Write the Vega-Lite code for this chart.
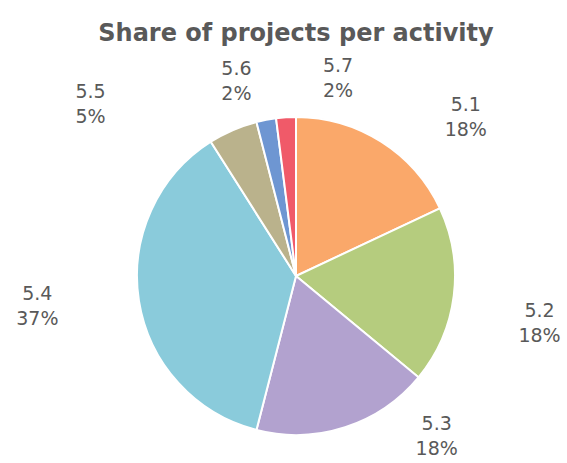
{
  "$schema": "https://vega.github.io/schema/vega-lite/v6.json",
  "autosize": "none",
  "width": 542,
  "height": 374,
  "padding": {"top": 89, "left": 25, "right": 0, "bottom": 0},
  "background": "white",
  "title": {
    "text": "Share of projects per activity",
    "font": "DejaVu Sans",
    "fontSize": 24,
    "fontWeight": "bold",
    "color": "#595959",
    "anchor": "middle",
    "offset": 11
  },
  "data": {
    "values": [
      {"activity": "5.1", "share": 18},
      {"activity": "5.2", "share": 18},
      {"activity": "5.3", "share": 18},
      {"activity": "5.4", "share": 37},
      {"activity": "5.5", "share": 5},
      {"activity": "5.6", "share": 2},
      {"activity": "5.7", "share": 2}
    ]
  },
  "encoding": {
    "theta": {"field": "share", "type": "quantitative", "stack": true},
    "color": {
      "field": "activity",
      "type": "nominal",
      "legend": null,
      "scale": {
        "domain": ["5.1", "5.2", "5.3", "5.4", "5.5", "5.6", "5.7"],
        "range": ["#FAA86A", "#B5CC7E", "#B2A2CF", "#8ACBDB", "#BAB28C", "#6E96D2", "#F05A69"]
      }
    },
    "order": {"field": "activity", "type": "ordinal"}
  },
  "layer": [
    {
      "mark": {"type": "arc", "outerRadius": 159, "stroke": "white", "strokeWidth": 2}
    },
    {
      "transform": [
        {"calculate": "datum.activity + '\\n' + datum.share + '%'", "as": "label"}
      ],
      "mark": {
        "type": "text",
        "radius": 190,
        "font": "DejaVu Sans",
        "fontSize": 19,
        "lineBreak": "\n",
        "lineHeight": 25,
        "align": "center",
        "baseline": "middle",
        "fill": "#595959",
        "dx": {"expr": "datum.activity == '5.1' ? 68 : datum.activity == '5.2' ? 55 : datum.activity == '5.3' ? 82 : datum.activity == '5.4' ? -71 : datum.activity == '5.5' ? -130 : datum.activity == '5.6' ? -24 : 54"},
        "dy": {"expr": "datum.activity == '5.1' ? -11 : datum.activity == '5.2' ? 11 : datum.activity == '5.3' ? -33 : datum.activity == '5.4' ? -12 : datum.activity == '5.5' ? -10 : datum.activity == '5.6' ? -20 : -20"}
      },
      "encoding": {
        "text": {"field": "label", "type": "nominal"},
        "color": {"value": "#595959"}
      }
    }
  ]
}
